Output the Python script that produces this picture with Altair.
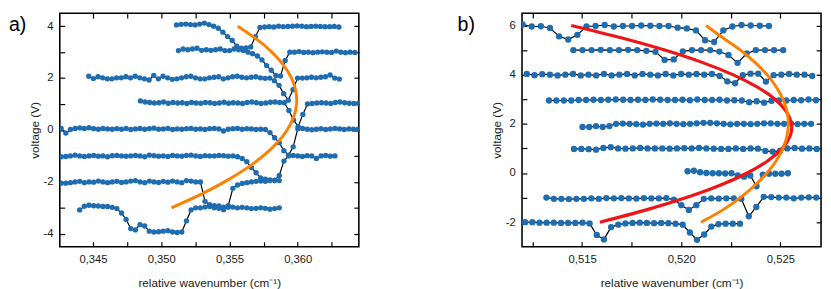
import altair as alt
import pandas as pd

FONT = "Liberation Sans"
TXT = "#1a1a1a"
BLUE = "#1f6db1"
ORANGE = "#ff8000"
RED = "#f01414"

# ---------------- panel a) ----------------
a_step = 0.00034
a_start_p4 = 0.35112
a_y_p4 = [4.05, 4.07, 4.08, 4.06, 4.05, 4.08, 4.12, 4.06, 4.0, 3.92, 3.77, 3.6, 3.45, 3.23, 3.15, 3.16,
          3.2, 3.6, 3.95, 3.97, 3.98, 3.97, 4.0, 3.98, 3.99, 4.0, 4.01, 4.0, 3.98, 3.99, 4.0, 3.99,
          3.98, 3.98, 3.99, 3.97]
a_start_p3 = 0.351264
a_y_p3 = [3.06, 3.12, 3.09, 3.12, 3.15, 3.07, 3.09, 3.07, 3.09, 3.12, 3.06, 3.06, 3.12, 3.09, 3.06,
          3.0, 2.94, 2.85, 2.7, 2.48, 2.3, 2.1, 2.08, 2.68, 3.0, 3.0, 3.02, 2.99, 3.0, 2.98, 3.0,
          3.01, 3.0, 2.99, 3.04, 3.0, 2.98, 3.0, 2.99]
a_start_p2 = 0.344693
a_y_p2 = [2.07, 1.98, 2.05, 2.01, 1.97, 1.97, 2.01, 2.01, 2.05, 2.01,
          2.07, 2.01, 1.97, 1.93, 2.1, 1.97, 2.07, 2.01, 1.95, 1.97,
          2.01, 2.05, 2.07, 2.01, 1.97, 1.97, 2.01, 2.03, 2.05, 1.97,
          2.01, 2.05, 2.07, 2.03, 2.01, 2.03, 2.05, 2.01, 1.99, 2.0,
          1.9, 1.72, 1.4, 1.15, 1.55, 2.0, 2.0, 2.01, 2.03, 2.01,
          2.03, 2.05, 2.12, 2.0, 1.96]
a_start_p1 = 0.348479
a_y_p1 = [1.12, 1.08, 1.06, 1.04, 1.05, 1.08, 1.03, 1.06, 1.04, 1.05,
          1.02, 1.06, 1.04, 1.03, 1.06, 1.05, 1.02, 1.04, 1.07, 1.03,
          1.05, 1.04, 1.02, 1.06, 1.08, 1.05, 1.02, 1.04, 1.07, 1.08,
          1.06, 1.05, 0.75, 0.38, 0.13, 0.6, 1.0, 1.02, 1.04, 1.05,
          1.04, 1.02, 1.06, 1.08, 1.05, 1.03, 1.02, 1.03]
a_start_p0 = 0.342671
a_y_p0 = [0.06, -0.12, 0.02, 0.06, 0.08, 0.06, 0.09, 0.05, 0.03, 0.06,
          0.04, 0.03, 0.05, 0.03, 0.06, 0.02, 0.04, 0.06, 0.03, 0.05,
          0.07, 0.03, 0.04, 0.06, 0.02, 0.04, 0.03, 0.05, 0.06, 0.03,
          0.04, 0.02, 0.05, 0.06, 0.04, -0.04, 0.03, 0.05, 0.06, 0.03,
          0.05, 0.04, 0.02, 0.03, 0.02, -0.1, -0.3, -0.49, -0.8, -0.97,
          -0.65, 0.05, 0.06, 0.03, 0.01, 0.03, 0.05, 0.02, 0.04, 0.06,
          0.04, 0.02, 0.04, 0.03, 0.03]
a_start_m1 = 0.342671
a_y_m1 = [-1.03, -1.02, -1.0, -0.97, -1.0, -1.02, -1.0, -0.98, -1.01, -1.0,
          -1.03, -0.99, -0.98, -1.0, -1.01, -1.0, -0.98, -1.0, -1.03, -0.97,
          -0.99, -1.01, -1.0, -1.02, -0.98, -1.0, -1.01, -0.98, -0.97, -1.0,
          -1.02, -0.99, -1.0, -1.0, -0.98, -0.99, -1.01, -1.0, -1.03, -1.1,
          -1.22, -1.45, -1.65, -1.85, -1.9, -1.92, -1.93, -1.75, -1.2, -1.0,
          -0.98, -1.0, -1.02, -0.99, -1.0, -1.1, -1.0, -0.98, -1.01, -1.0]
a_start_m2 = 0.342671
a_y_m2 = [-2.05, -2.05, -2.03, -2.0, -1.98, -2.03, -2.0, -2.01, -1.97, -2.0,
          -2.03, -2.0, -1.98, -2.02, -2.0, -1.97, -1.95, -2.0, -2.03, -1.97,
          -2.0, -2.02, -1.98, -2.01, -1.97, -2.0, -2.03, -1.95, -1.97, -2.0,
          -2.0, -2.75, -2.88, -2.92, -2.93, -2.97, -2.92, -2.25, -2.12, -2.06,
          -2.03, -2.0, -1.98, -1.97, -1.98, -1.95, -1.95, -1.95]
a_start_m3 = 0.344029
a_y_m3 = [-3.08, -2.94, -2.9, -2.92, -2.93, -2.95, -2.95, -2.98, -3.03, -3.2,
          -3.45, -3.8, -3.85, -3.65, -3.7, -3.9, -3.93, -3.92, -3.9, -3.88,
          -3.93, -3.95, -3.93, -3.5, -3.08, -3.0, -3.0, -2.97, -2.95, -3.0,
          -3.02, -3.07, -2.98, -2.97, -3.0, -2.98, -3.0, -3.03, -3.02, -3.0,
          -3.02, -3.05, -3.03, -3.0]

a_curve_v = [4, 3.5, 3, 2.5, 2, 1.5, 1, 0.5, 0, -0.5, -1, -1.5, -2, -2.5, -3]
a_orange_x = [0.3556, 0.35699, 0.35811, 0.35896, 0.35955, 0.35986, 0.35992, 0.3597,
              0.35923, 0.35848, 0.35747, 0.35619, 0.35464, 0.35283, 0.35075]

a_x_domain = [0.34257, 0.36448]
a_y_domain = [-4.5, 4.5]
a_x_ticks = [0.345, 0.3475, 0.35, 0.3525, 0.355, 0.3575, 0.36, 0.3625]
a_y_ticks = [-4, -3, -2, -1, 0, 1, 2, 3, 4]

# ---------------- panel b) ----------------
b_start_p6, b_step_p6 = 0.5120, 0.00046
b_y_p6 = [6.04, 5.96, 5.97, 5.90, 5.56, 5.43, 5.62, 5.96, 5.98, 6.02, 5.96, 5.98, 5.98, 6.00,
          5.99, 5.98, 5.98, 5.91, 5.88, 5.80, 5.40, 5.33, 5.80, 5.96, 6.02, 6.00, 5.99, 5.98]
b_start_p5, b_step_p5 = 0.51456, 0.00046
b_y_p5 = [5.0, 5.0, 5.0, 5.01, 5.0, 5.0, 5.01, 5.0, 4.97, 4.93, 4.6, 4.62, 4.95, 5.0, 5.0, 5.0,
          4.94, 4.8, 4.48, 4.86, 5.0, 5.0, 5.0, 5.0]
b_start_p4, b_step_p4 = 0.51221, 0.000389
b_y_p4 = [4.03, 3.98, 4.02, 4.0, 3.97, 4.0, 4.03, 3.97, 4.0, 3.97, 4.03, 3.97, 4.0, 4.03, 3.97,
          4.03, 4.0, 3.97, 4.03, 3.97, 4.03, 4.0, 4.03, 4.0, 4.03, 3.95, 3.73, 3.65, 3.98, 4.04,
          4.04, 3.72, 3.98, 4.0, 4.03, 4.0, 4.0, 3.95]
b_start_p3, b_step_p3 = 0.51333, 0.000374
b_y_p3 = [2.95, 2.95, 2.95, 2.95, 2.97, 2.97, 2.98, 2.97, 2.98, 2.99, 2.98, 2.97, 2.98, 2.97,
          2.99, 2.98, 2.97, 2.97, 2.98, 2.96, 2.99, 2.97, 2.97, 2.98, 2.95, 2.96, 2.95, 2.88,
          2.92, 2.86, 2.94, 2.95, 2.95, 2.97, 2.96, 2.99, 2.96]
b_start_p2, b_step_p2 = 0.51502, 0.000339
b_y_p2 = [1.87, 1.87, 1.91, 1.87, 1.91, 2.0, 2.01, 2.0, 1.99, 1.97, 2.0, 2.01, 2.0, 2.02, 2.0,
          1.99, 2.0, 2.02, 2.04, 2.04, 2.02, 2.0, 1.98, 2.0, 2.0, 1.99, 2.0, 2.02, 2.02, 2.0,
          2.0, 2.02, 1.99, 2.0, 2.0]
b_start_p1, b_step_p1 = 0.51459, 0.000371
b_y_p1 = [0.98, 0.98, 0.97, 0.95, 1.02, 1.05, 1.0, 0.99, 1.0, 1.02, 1.0, 1.0, 1.0, 0.99, 1.0,
          1.01, 1.0, 1.02, 1.0, 0.99, 0.98, 0.98, 1.0, 0.98, 1.0, 0.99, 0.9, 0.87, 0.9, 1.0,
          1.02, 0.99, 1.0, 0.98]
b_start_p0, b_step_p0 = 0.52032, 0.000316
b_y_p0 = [0.07, 0.09, 0.03, 0.0, -0.01, -0.01, -0.02, -0.01, -0.1, -0.15, -0.1, -0.54, -0.07,
          -0.03, -0.03, -0.03, -0.01]
b_start_m1, b_step_m1 = 0.51320, 0.000378
b_y_m1 = [-1.0, -1.05, -1.05, -1.06, -1.05, -1.05, -1.03, -1.05, -1.02, -1.03, -1.02, -1.03,
          -1.04, -1.02, -1.03, -1.03, -1.02, -1.08, -1.31, -1.5, -1.31, -1.05, -1.03, -1.04,
          -1.03, -1.03, -1.05, -1.76, -1.38, -0.97, -0.98, -1.0, -1.0, -1.03, -1.0, -0.99, -1.0]
b_start_m2, b_step_m2 = 0.51213, 0.000361
b_y_m2 = [-2.0, -2.0, -2.02, -2.02, -2.02, -2.03, -2.03, -2.03, -2.02, -2.05, -2.52, -2.7,
          -2.2, -2.1, -2.05, -2.03, -2.02, -2.03, -2.04, -2.03, -2.04, -2.06, -2.1, -2.42,
          -2.72, -2.5, -2.18, -2.08, -2.06, -2.06, -2.06]

b_curve_v = [6, 5.5, 5, 4.5, 4, 3.5, 3, 2.5, 2, 1.5, 1, 0.5, 0, -0.5, -1, -1.5, -2]
b_red_x = [0.51445, 0.51697, 0.51917, 0.52105, 0.5226, 0.52382, 0.52473, 0.5253, 0.52556,
           0.52549, 0.52509, 0.52437, 0.52332, 0.52196, 0.52026, 0.51824, 0.5159]
b_orange_x = [0.52125, 0.5221, 0.52298, 0.52372, 0.52432, 0.52479, 0.52513, 0.52533, 0.5254,
              0.52533, 0.52513, 0.52479, 0.52432, 0.52372, 0.52298, 0.5221, 0.521]

b_x_domain = [0.51197, 0.52705]
b_y_domain = [-3.0, 6.5]
b_x_ticks = [0.5125, 0.515, 0.5175, 0.52, 0.5225, 0.525]
b_y_ticks = [-2, -1, 0, 1, 2, 3, 4, 5, 6]


def traces_df(traces):
    rows = []
    for name, start, step, ys in traces:
        for i, y in enumerate(ys):
            rows.append({"trace": name, "i": i, "x": start + i * step, "y": y})
    return pd.DataFrame(rows)


def curve_df(xs, vs):
    return pd.DataFrame({"k": list(range(len(xs))), "x": xs, "y": vs})


df_a = traces_df([
    ("4", a_start_p4, a_step, a_y_p4), ("3", a_start_p3, a_step, a_y_p3),
    ("2", a_start_p2, a_step, a_y_p2), ("1", a_start_p1, a_step, a_y_p1),
    ("0", a_start_p0, a_step, a_y_p0), ("-1", a_start_m1, a_step, a_y_m1),
    ("-2", a_start_m2, a_step, a_y_m2), ("-3", a_start_m3, a_step, a_y_m3),
])
df_b = traces_df([
    ("6", b_start_p6, b_step_p6, b_y_p6), ("5", b_start_p5, b_step_p5, b_y_p5),
    ("4", b_start_p4, b_step_p4, b_y_p4), ("3", b_start_p3, b_step_p3, b_y_p3),
    ("2", b_start_p2, b_step_p2, b_y_p2), ("1", b_start_p1, b_step_p1, b_y_p1),
    ("0", b_start_p0, b_step_p0, b_y_p0), ("-1", b_start_m1, b_step_m1, b_y_m1),
    ("-2", b_start_m2, b_step_m2, b_y_m2),
])

XLAB = ("abs(datum.value*200 - round(datum.value*200)) < 0.01 ? "
        "replace(format(datum.value, '.3f'), '.', ',') : ''")
YLAB = "datum.value % 2 == 0 ? '' + datum.value : ''"


def panel(df, curves, xdom, ydom, xt, yt, tag, tag_dx, dot_size, w, h):
    xs = alt.Scale(domain=xdom, nice=False, zero=False)
    ys = alt.Scale(domain=ydom, nice=False, zero=False)
    tick = dict(tickSize=5, offset=-5, domain=False, grid=False, tickColor="black", tickWidth=1.2)
    ax_b = alt.Axis(orient="bottom", values=xt, labelExpr=XLAB, labelFont=FONT, labelFontSize=11.5,
                    labelColor=TXT, labelPadding=7, labelFlush=False, labelOverlap=False,
                    title="relative wavenumber (cm\u207b\u00b9)", titleFont=FONT, titleFontSize=12,
                    titleFontWeight="normal", titleColor=TXT, titlePadding=13, **tick)
    ax_l = alt.Axis(orient="left", values=yt, labelExpr=YLAB, labelFont=FONT, labelFontSize=11.5,
                    labelColor=TXT, labelPadding=7, labelFlush=False, labelOverlap=False,
                    title="voltage (V)", titleFont=FONT, titleFontSize=12,
                    titleFontWeight="normal", titleColor=TXT, titlePadding=2, **tick)
    ax_t = alt.Axis(orient="top", values=xt, labels=False, title=None, **tick)
    ax_r = alt.Axis(orient="right", values=yt, labels=False, title=None, **tick)
    base = alt.Chart(df)
    lines = base.mark_line(color="black", strokeWidth=1.2, clip=True).encode(
        x=alt.X("x:Q", scale=xs, axis=ax_b),
        y=alt.Y("y:Q", scale=ys, axis=ax_l),
        detail="trace:N", order="i:Q")
    dots = base.mark_circle(color=BLUE, size=dot_size, opacity=1, clip=True).encode(
        x=alt.X("x:Q", scale=xs, axis=ax_t),
        y=alt.Y("y:Q", scale=ys, axis=ax_r))
    layers = [lines, dots]
    for cdf, color, sw in curves:
        layers.append(alt.Chart(cdf).mark_line(color=color, strokeWidth=sw, interpolate="natural",
                                               clip=True).encode(
            x=alt.X("x:Q", scale=xs, axis=None),
            y=alt.Y("y:Q", scale=ys, axis=None),
            order="k:Q"))
    layers.append(alt.Chart(pd.DataFrame({"t": [tag]})).mark_text(
        align="left", baseline="top", font=FONT, fontSize=20, color="black").encode(
        x=alt.value(tag_dx), y=alt.value(2), text="t:N"))
    return alt.layer(*layers).resolve_axis(x="independent", y="independent").properties(
        width=w, height=h)


pa = panel(df_a, [(curve_df(a_orange_x, a_curve_v), ORANGE, 3)],
           a_x_domain, a_y_domain, a_x_ticks, a_y_ticks, "a)", -52, 30, 306, 239)
pb = panel(df_b, [(curve_df(b_red_x, b_curve_v), RED, 3.2),
                  (curve_df(b_orange_x, b_curve_v), ORANGE, 3)],
           b_x_domain, b_y_domain, b_x_ticks, b_y_ticks, "b)", -66, 42, 306, 239)

chart = alt.hconcat(pa, pb, spacing=98).properties(padding=0, background="white").configure_view(
    stroke="black", strokeWidth=1.6)

chart.save("out.html", embed_options={"renderer": "svg", "actions": False})
